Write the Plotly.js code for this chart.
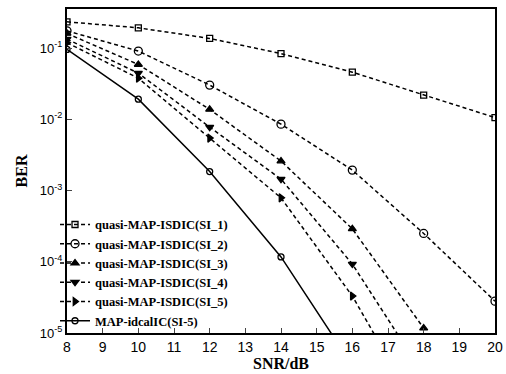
<!DOCTYPE html>
<html>
<head>
<meta charset="utf-8">
<script src="https://cdn.plot.ly/plotly-3.0.1.min.js"></script>
<style>html,body{margin:0;padding:0;background:#fff;}#chart{width:506px;height:374px;}</style>
</head>
<body>
<div id="chart"></div>
<script>
const snr = [8, 10, 12, 14, 16, 18, 20];
const berSI1 = [0.234, 0.193, 0.137, 0.084, 0.046, 0.0219, 0.0106];
const berSI2 = [0.175, 0.091, 0.0303, 0.00857, 0.00194, 0.00025, 0.000028];
const berSI3 = [0.161, 0.059, 0.0138, 0.0026, 0.00029, 0.0000117];
const berSI4 = [0.134, 0.0446, 0.00778, 0.00145, 0.000093, 0.0000026];
const berSI5 = [0.119, 0.0379, 0.00546, 0.00079, 0.000033, 0.0000006];
const berIdeal = [0.096, 0.0192, 0.00185, 0.000117, 0.0000035];
const names = ['quasi-MAP-ISDIC(SI_1)', 'quasi-MAP-ISDIC(SI_2)', 'quasi-MAP-ISDIC(SI_3)',
               'quasi-MAP-ISDIC(SI_4)', 'quasi-MAP-ISDIC(SI_5)', 'MAP-idcalIC(SI-5)'];
const yTickVals = [1e-5, 1e-4, 1e-3, 1e-2, 1e-1];
const yTickText = ['10<sup>-5</sup>', '10<sup>-4</sup>', '10<sup>-3</sup>', '10<sup>-2</sup>', '10<sup>-1</sup>'];
const xTickVals = [8, 9, 10, 11, 12, 13, 14, 15, 16, 17, 18, 19, 20];

const series = [berSI1, berSI2, berSI3, berSI4, berSI5, berIdeal];
const symbols = ['square-open', 'circle-open', 'triangle-up', 'triangle-down', 'triangle-right', 'circle-open'];
const sizes = [6, 8, 7, 7, 7, 6];
const traces = series.map((s, i) => ({
  x: snr.slice(0, s.length),
  y: s,
  name: names[i],
  type: 'scatter',
  mode: 'lines+markers',
  cliponaxis: true,
  line: {color: '#000', width: 1.5, dash: i < 5 ? '4px,3px' : 'solid'},
  marker: {symbol: symbols[i], size: sizes[i], color: '#000', line: {color: '#000', width: 1.3}}
}));

const layout = {
  width: 506, height: 374,
  margin: {l: 67, r: 11, t: 9, b: 41},
  paper_bgcolor: '#fff', plot_bgcolor: '#fff',
  showlegend: true,
  legend: {
    x: -0.028, y: 0.38, xanchor: 'left', yanchor: 'top',
    bgcolor: 'rgba(0,0,0,0)', borderwidth: 0,
    font: {family: 'Liberation Serif, Times New Roman, serif', size: 12.5, color: '#000', weight: 'bold'},
    tracegroupgap: 0, itemwidth: 30
  },
  xaxis: {
    range: [8, 20], tickvals: xTickVals, ticks: 'inside', ticklen: 5,
    showline: true, linecolor: '#000', linewidth: 2, mirror: true,
    showgrid: false, zeroline: false,
    tickfont: {family: 'Liberation Sans, Arial, sans-serif', size: 14, color: '#000'},
    title: {text: '<b>SNR/dB</b>', font: {family: 'Liberation Serif, Times New Roman, serif', size: 16, color: '#000'}, standoff: 4}
  },
  yaxis: {
    type: 'log', range: [-5, -0.45], tickvals: yTickVals, ticktext: yTickText,
    ticks: 'inside', ticklen: 5,
    showline: true, linecolor: '#000', linewidth: 2, mirror: true,
    showgrid: false, zeroline: false,
    tickfont: {family: 'Liberation Sans, Arial, sans-serif', size: 13, color: '#000'},
    title: {text: '<b>BER</b>', font: {family: 'Liberation Serif, Times New Roman, serif', size: 16, color: '#000'}, standoff: 8}
  }
};
Plotly.newPlot('chart', traces, layout, {displayModeBar: false, staticPlot: true});
</script>
</body>
</html>
